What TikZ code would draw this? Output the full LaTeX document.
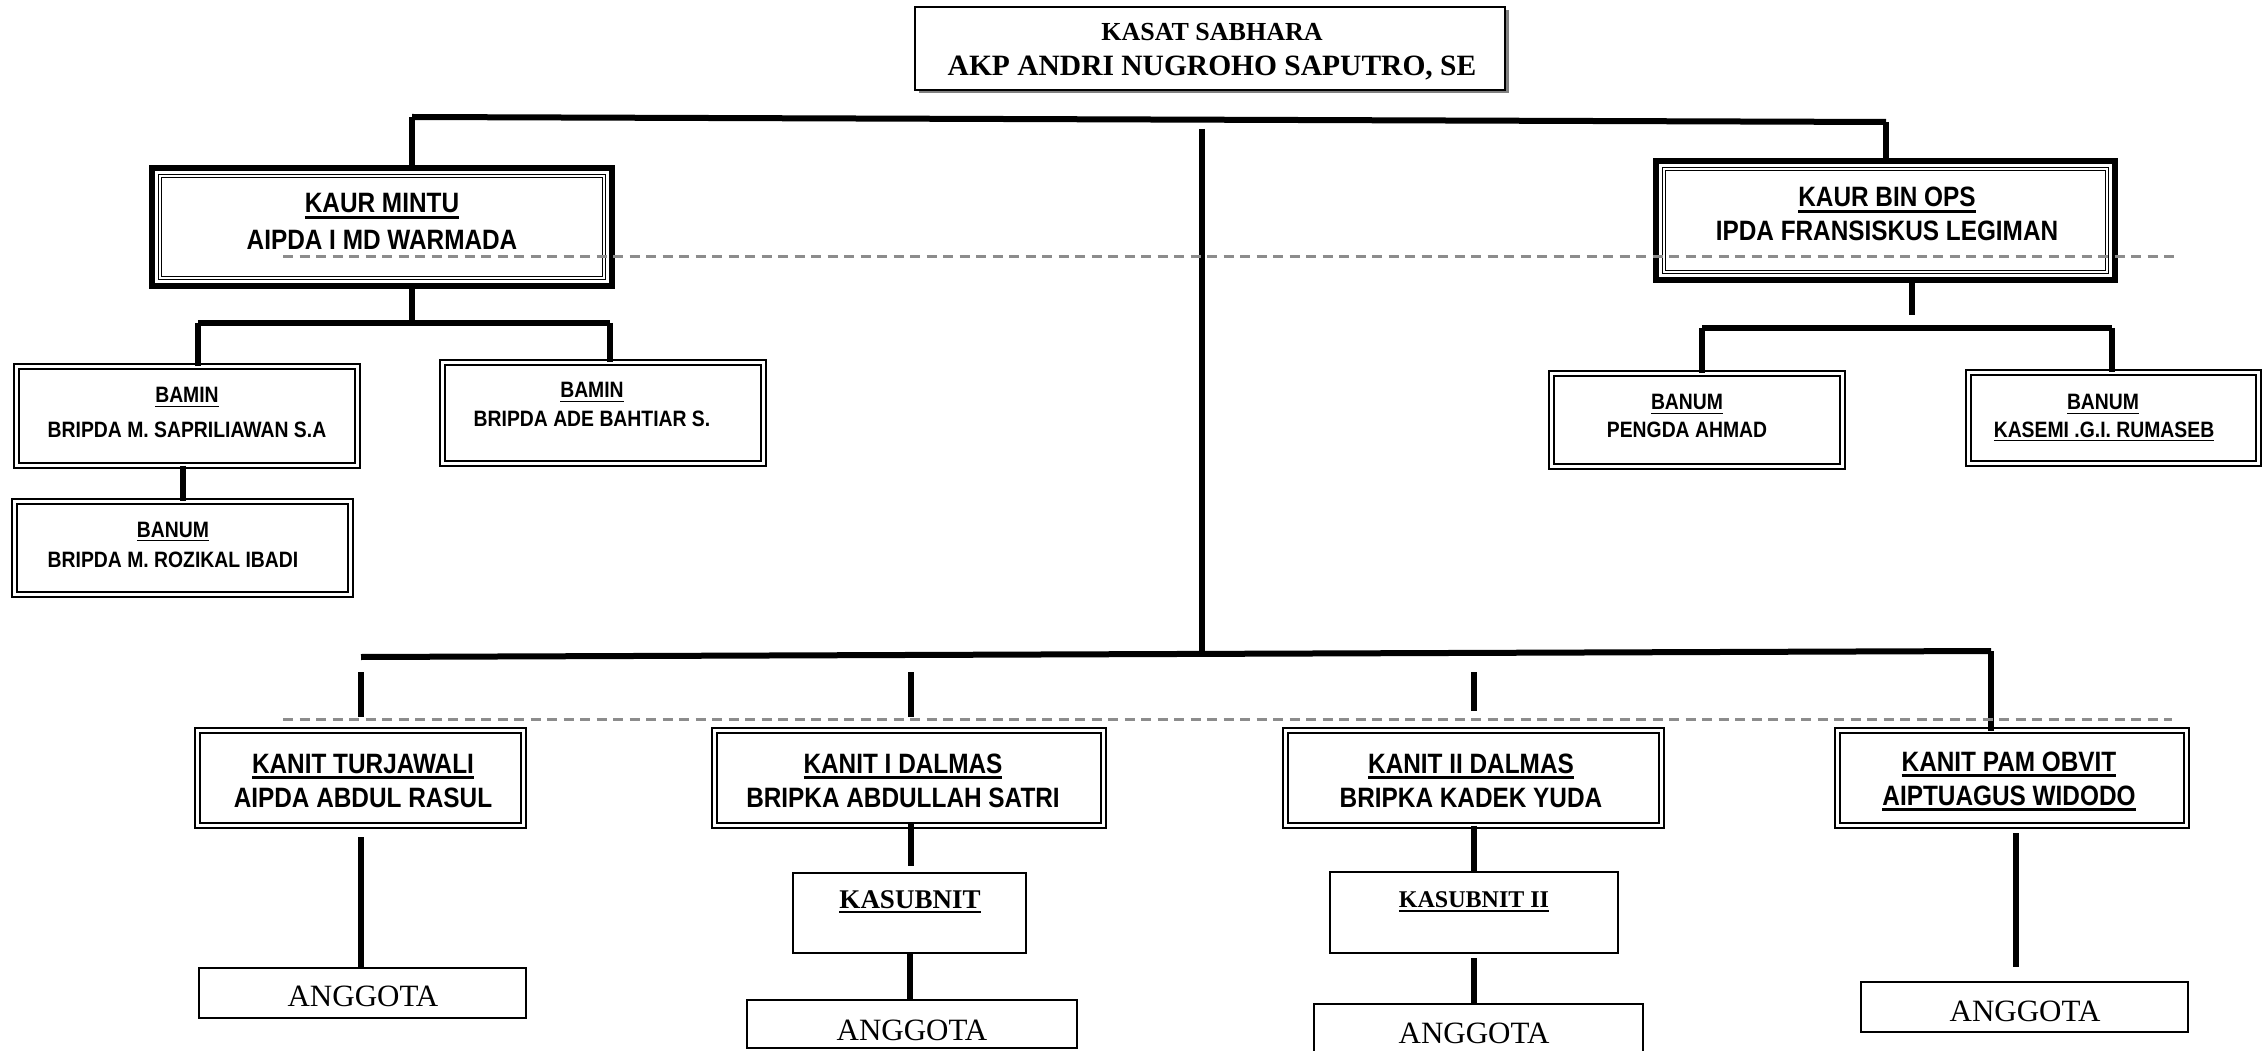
\documentclass[tikz,border=0pt]{standalone}
\usepackage{fontspec}
\setmainfont{Liberation Serif}
\newfontfamily\nar[FakeStretch=0.87]{Liberation Sans}
\usetikzlibrary{shadows}
\newcommand\ulx[1]{\setbox0=\hbox{#1}\rlap{\rule[-0.2em]{\wd0}{0.085em}}\box0}
\begin{document}
\begin{tikzpicture}[x=0.4pt, y=-0.4pt,
  dblbox/.style={draw, line width=0.8pt, double, double distance=1.2pt, inner sep=0, outer sep=0},
  kaurbox/.style={draw, line width=2.4pt, inner sep=0, outer sep=0},
  thinbox/.style={draw, line width=0.8pt, inner sep=0, outer sep=0},
  innerdbl/.style={line width=0.45pt, double, double distance=0.5pt},
  conn/.style={line width=2.4pt},
  dashln/.style={draw=black!45, line width=1.2pt, dash pattern=on 4pt off 2.6pt},
  lbl/.style={inner sep=0, anchor=base},
  sbig/.style={lbl, font=\nar\bfseries\fontsize{11.2}{13}\selectfont},
  ssml/.style={lbl, font=\nar\bfseries\fontsize{8.9}{11}\selectfont},
  tang/.style={lbl, font=\fontsize{12.4}{14}\selectfont},
]
\fill[white] (0,0) rectangle (2264,1051);
\clip (0,0) rectangle (2264,1051);

% ---------- boxes ----------
\node[thinbox, fill=white, drop shadow={shadow xshift=1.4pt, shadow yshift=-1.4pt, fill=black!50, opacity=1},
      minimum width=236pt, minimum height=33.2pt] (kasat) at (1210,48.5) {};

\node[kaurbox, minimum width=184pt, minimum height=47.2pt] (mintu) at (382,227) {};
\draw[innerdbl] ([shift={(8,8)}]mintu.north west) rectangle ([shift={(-8,-8)}]mintu.south east);
\node[kaurbox, minimum width=183.6pt, minimum height=47.6pt] (binops) at (1885.5,220.5) {};
\draw[innerdbl] ([shift={(8,8)}]binops.north west) rectangle ([shift={(-8,-8)}]binops.south east);

\node[dblbox, minimum width=136.4pt, minimum height=39.6pt] (bamin1) at (187,416) {};
\node[dblbox, minimum width=128.4pt, minimum height=40.4pt] (bamin2) at (603,413) {};
\node[dblbox, minimum width=134.4pt, minimum height=37.2pt] (banum1) at (182.5,548) {};
\node[dblbox, minimum width=116.4pt, minimum height=37.2pt] (pengda) at (1697,420) {};
\node[dblbox, minimum width=116pt, minimum height=36.4pt] (kasemi) at (2113.5,418) {};

\node[dblbox, minimum width=130.4pt, minimum height=38pt] (turj) at (360.5,778) {};
\node[dblbox, minimum width=155.6pt, minimum height=38pt] (dal1) at (909,778) {};
\node[dblbox, minimum width=150.4pt, minimum height=38pt] (dal2) at (1473.5,778) {};
\node[dblbox, minimum width=139.6pt, minimum height=38pt] (pam) at (2012,778) {};

\node[thinbox, minimum width=130.8pt, minimum height=20pt] (ang1) at (362.5,993) {};
\node[thinbox, minimum width=93.2pt, minimum height=32pt] (kasub1) at (909.5,913) {};
\node[thinbox, minimum width=132pt, minimum height=19.2pt] (ang2) at (912,1024) {};
\node[thinbox, minimum width=115.2pt, minimum height=32.4pt] (kasub2) at (1474,912.5) {};
\node[thinbox, minimum width=131.6pt, minimum height=24pt] (ang3) at (1478.5,1034) {};
\node[thinbox, minimum width=130.8pt, minimum height=20pt] (ang4) at (2024.5,1007) {};

% ---------- texts ----------
\node[lbl, font=\bfseries\fontsize{10.4}{12}\selectfont] (kasat1) at (1212,40.5) {KASAT SABHARA};
\node[lbl, font=\bfseries\fontsize{11.8}{14}\selectfont] (kasat2) at (1212,76) {AKP ANDRI NUGROHO SAPUTRO, SE};

\node[sbig] (mintu1) at (382,213) {\ulx{KAUR MINTU}};
\node[sbig] (mintu2) at (382,250) {AIPDA I MD WARMADA};
\node[sbig] (binops1) at (1887,207) {\ulx{KAUR BIN OPS}};
\node[sbig] (binops2) at (1887,241) {IPDA FRANSISKUS LEGIMAN};

\node[ssml] (bamin1a) at (187,403) {\ulx{BAMIN}};
\node[ssml] (bamin1b) at (187,438) {BRIPDA M. SAPRILIAWAN S.A};
\node[ssml] (bamin2a) at (592,398) {\ulx{BAMIN}};
\node[ssml] (bamin2b) at (592,427) {BRIPDA ADE BAHTIAR S.};
\node[ssml] (banum1a) at (173,537) {\ulx{BANUM}};
\node[ssml] (banum1b) at (173,567) {BRIPDA M. ROZIKAL IBADI};
\node[ssml] (pengdaa) at (1687,410) {\ulx{BANUM}};
\node[ssml] (pengdab) at (1687,437) {PENGDA AHMAD};
\node[ssml] (kasemia) at (2103,410) {\ulx{BANUM}};
\node[ssml] (kasemib) at (2104,437) {\ulx{KASEMI .G.I. RUMASEB}};

\node[sbig] (turja) at (363,773) {\ulx{KANIT TURJAWALI}};
\node[sbig] (turjb) at (363,807) {AIPDA ABDUL RASUL};
\node[sbig] (dal1a) at (903,773) {\ulx{KANIT I DALMAS}};
\node[sbig] (dal1b) at (903,807) {BRIPKA ABDULLAH SATRI};
\node[sbig] (dal2a) at (1471,773) {\ulx{KANIT II DALMAS}};
\node[sbig] (dal2b) at (1471,807) {BRIPKA KADEK YUDA};
\node[sbig] (pama) at (2009,771) {\ulx{KANIT PAM OBVIT}};
\node[sbig] (pamb) at (2009,805) {\ulx{AIPTUAGUS WIDODO}};

\node[lbl, font=\bfseries\fontsize{10.8}{12}\selectfont] (kasub1t) at (910,908) {\ulx{KASUBNIT}};
\node[lbl, font=\bfseries\fontsize{9.6}{11}\selectfont] (kasub2t) at (1474,907) {\ulx{KASUBNIT II}};
\node[tang] (ang1t) at (363,1006) {ANGGOTA};
\node[tang] (ang2t) at (912,1040) {ANGGOTA};
\node[tang] (ang3t) at (1474,1043) {ANGGOTA};
\node[tang] (ang4t) at (2025,1021) {ANGGOTA};

% ---------- junction coordinates ----------
\coordinate (tl) at (412,117);
\coordinate (tr) at (1886,122);
\coordinate (ctop) at (1202,129);
\coordinate (cbot) at (1202,655);
\coordinate (m1) at (412,323);
\coordinate (ml) at (198,323);
\coordinate (mr) at (610,323);
\coordinate (b0) at (1912,315);
\coordinate (bl2) at (1702,328);
\coordinate (br2) at (2112,328);
\coordinate (bl) at (361,657);
\coordinate (br) at (1991,651);
\coordinate (v1a) at (361,672);  \coordinate (v1b) at (361,717);
\coordinate (v2a) at (911,672);  \coordinate (v2b) at (911,717);
\coordinate (v3a) at (1474,672); \coordinate (v3b) at (1474,711);
\coordinate (t1) at (361,837);
\coordinate (d1a) at (911,822);  \coordinate (d1b) at (911,866);
\coordinate (k2a) at (1474,958);
\coordinate (p1) at (2016,833);  \coordinate (p2) at (2016,967);

% ---------- connectors ----------
\draw[conn] (tl) -- (tr);
\draw[conn] (tl) -- (tl |- mintu.north);
\draw[conn] (tr) -- (tr |- binops.north);
\draw[conn] (ctop) -- (cbot);

\draw[conn] (m1 |- mintu.south) -- (m1);
\draw[conn] (ml) -- (mr);
\draw[conn] (ml) -- (ml |- bamin1.north);
\draw[conn] (mr) -- (mr |- bamin2.north);
\draw[conn] (banum1.north |- bamin1.south) -- (banum1.north);

\draw[conn] (b0 |- binops.south) -- (b0);
\draw[conn] (bl2) -- (br2);
\draw[conn] (bl2) -- (bl2 |- pengda.north);
\draw[conn] (br2) -- (br2 |- kasemi.north);

\draw[conn] (bl) -- (br);
\draw[conn] (v1a) -- (v1b);
\draw[conn] (v2a) -- (v2b);
\draw[conn] (v3a) -- (v3b);
\draw[conn] (br) -- (br |- pam.north);

\draw[conn] (t1) -- (t1 |- ang1.north);
\draw[conn] (d1a) -- (d1b);
\draw[conn] (kasub1.south) -- (kasub1.south |- ang2.north);
\draw[conn] (dal2.south) -- (dal2.south |- kasub2.north);
\draw[conn] (k2a) -- (k2a |- ang3.north);
\draw[conn] (p1) -- (p2);

% ---------- dashed guide lines ----------
\coordinate (g1a) at (283,257); \coordinate (g1b) at (2175,257);
\coordinate (g2a) at (283,719); \coordinate (g2b) at (2172,719);
\draw[dashln] (g1a) -- (g1b);
\draw[dashln] (g2a) -- (g2b);
\end{tikzpicture}
\end{document}
